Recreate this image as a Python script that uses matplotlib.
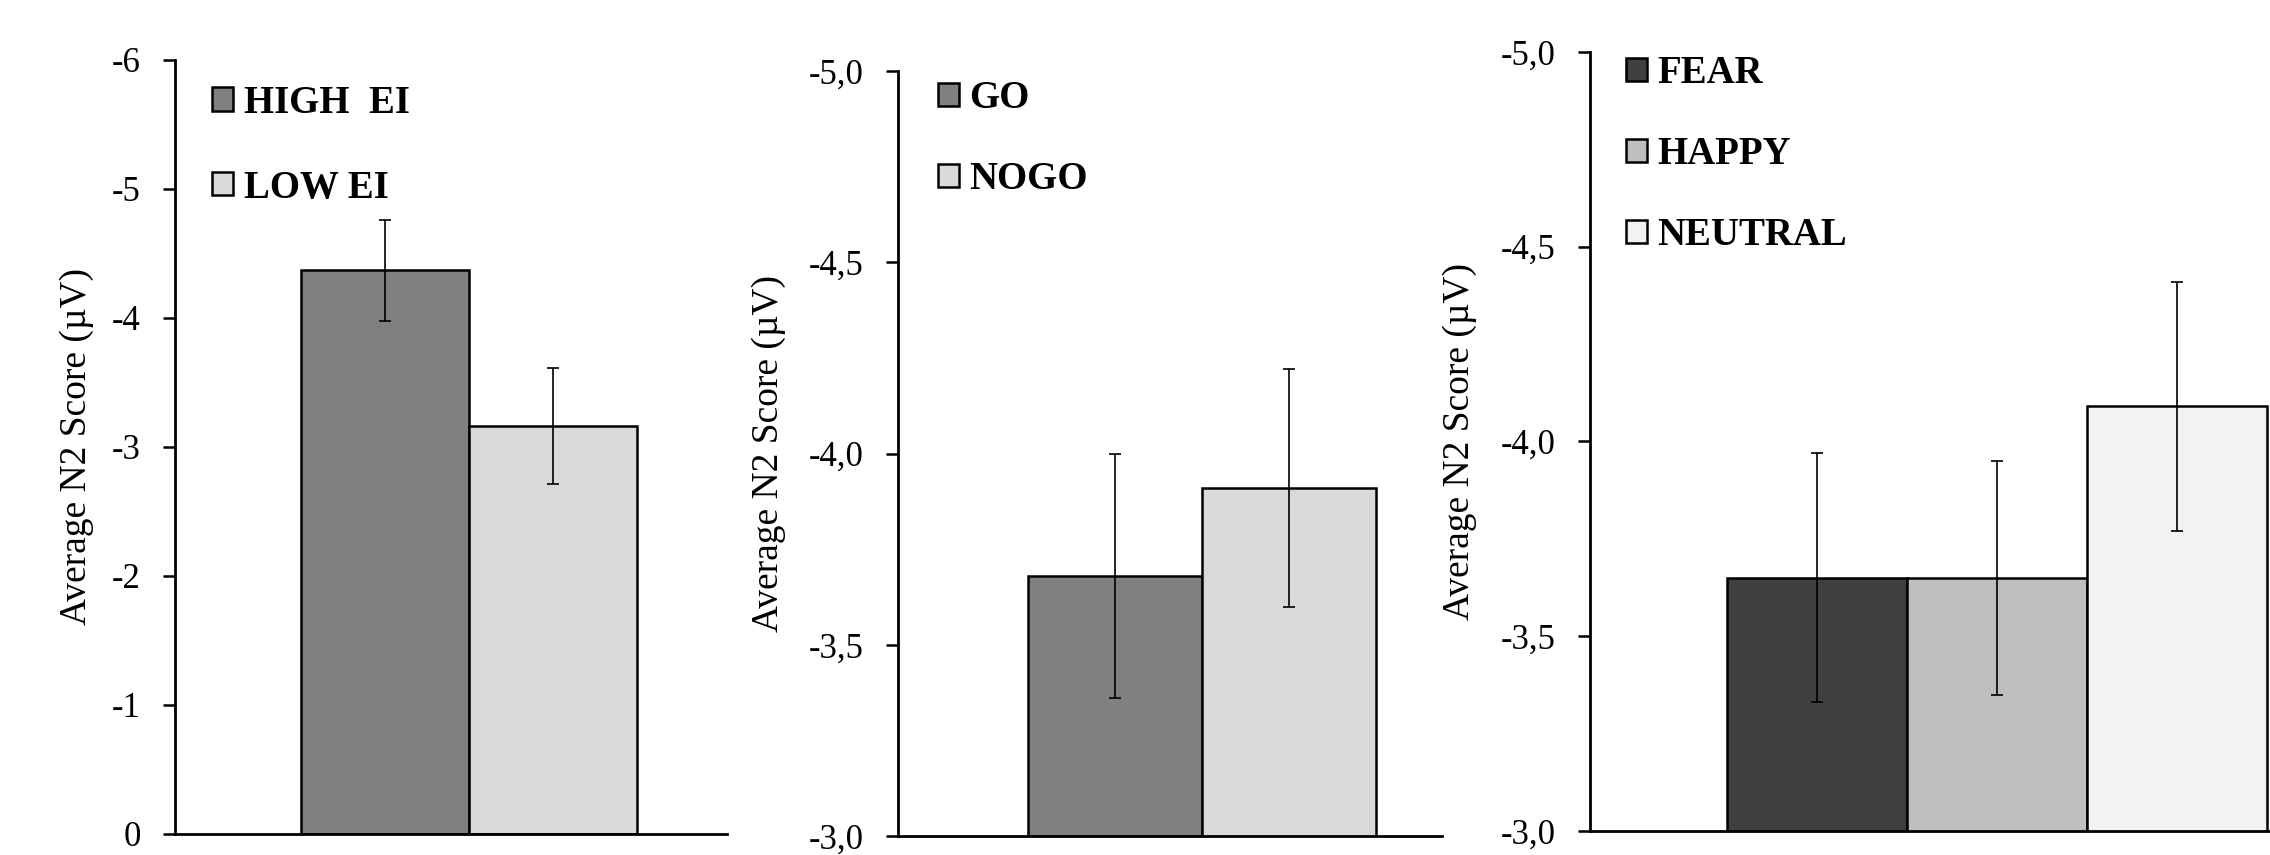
import numpy as np
import matplotlib
matplotlib.use("Agg")
import matplotlib.pyplot as plt
from matplotlib.patches import Patch
from matplotlib.ticker import FuncFormatter, MultipleLocator

plt.rcParams['font.family'] = ['Liberation Serif', 'DejaVu Serif']

# panel 1: emotional intelligence groups
ei_labels = ['HIGH  EI', 'LOW EI']
ei_means = [-4.37, -3.16]
ei_err = [0.39, 0.45]
ei_colors = ['#808080', '#d9d9d9']

# panel 2: go / nogo
cond_labels = ['GO', 'NOGO']
cond_means = [-3.68, -3.91]
cond_err = [0.32, 0.31]
cond_colors = ['#808080', '#d9d9d9']

# panel 3: emotion
emo_labels = ['FEAR', 'HAPPY', 'NEUTRAL']
emo_means = [-3.65, -3.65, -4.09]
emo_err = [0.32, 0.30, 0.32]
emo_colors = ['#404040', '#bfbfbf', '#f2f2f2']

TICK_FS = 25
LABEL_FS = 27
LEG_FS = 28

fig = plt.figure(figsize=(22.7, 8.55), dpi=100)


def panel(rect, labels, means, errs, colors, ylim, step, fmt, xlim,
          label_x, leg_anchor, leg_spacing):
    ax = fig.add_axes(rect)
    x = np.arange(len(means))
    ax.bar(x, means, width=1.0, color=colors, edgecolor='black', linewidth=1.8,
           zorder=2)
    ax.errorbar(x, means, yerr=errs, fmt='none', ecolor='black',
                elinewidth=1.2, capsize=4, capthick=1.2, zorder=3)
    ax.set_xlim(*xlim)
    ax.set_ylim(*ylim)
    ax.yaxis.set_major_locator(MultipleLocator(step))
    ax.yaxis.set_major_formatter(FuncFormatter(lambda v, p: fmt(v)))
    ax.set_xticks([])
    for s in ['top', 'right']:
        ax.spines[s].set_visible(False)
    for s in ['left', 'bottom']:
        ax.spines[s].set_linewidth(2)
    ax.tick_params(axis='y', direction='out', length=8.5, width=1.8,
                   labelsize=TICK_FS, pad=16)
    ax.set_ylabel('Average N2 Score (µV)', fontsize=LABEL_FS, va='center')
    ax.yaxis.set_label_coords(label_x, 0.5)
    handles = [Patch(facecolor=c, edgecolor='black', linewidth=1.8)
               for c in colors]
    ax.legend(handles, labels, loc='upper left', bbox_to_anchor=leg_anchor,
              frameon=False, prop=dict(weight='bold', size=LEG_FS),
              handlelength=0.55, handleheight=0.55, handletextpad=0.26,
              labelspacing=leg_spacing, borderaxespad=0, borderpad=0)
    return ax


panel([0.0771, 0.0246, 0.2432, 0.9053], ei_labels, ei_means, ei_err, ei_colors,
      (0, -6), 1, lambda v: '%d' % round(v), (-1.25, 2.036),
      -0.178, (0.067, 0.968), 1.23)

comma = lambda v: ('%.1f' % v).replace('.', ',')

panel([0.3956, 0.0222, 0.2396, 0.8947], cond_labels, cond_means, cond_err,
      cond_colors, (-3, -5), 0.5, comma, (-1.247, 1.879),
      -0.237, (0.0735, 0.988), 1.13)

panel([0.7004, 0.0281, 0.2996, 0.9111], emo_labels, emo_means, emo_err,
      emo_colors, (-3, -5), 0.5, comma, (-1.261, 2.517),
      -0.191, (0.053, 0.996), 1.13)

fig.savefig('out.png', dpi=100)
